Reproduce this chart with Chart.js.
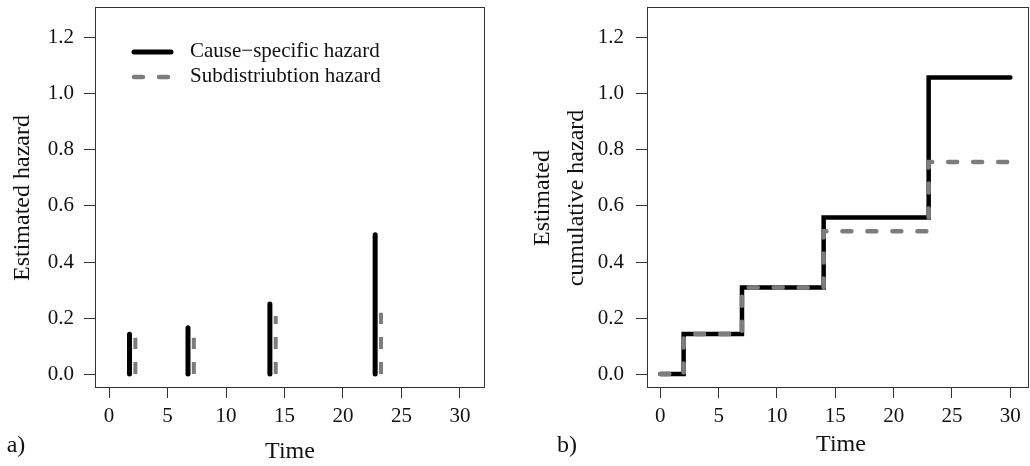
<!DOCTYPE html>
<html>
<head>
<meta charset="utf-8">
<script src="https://cdn.jsdelivr.net/npm/chart.js@4.4.1/dist/chart.umd.min.js"></script>
<style>
  html, body { margin: 0; padding: 0; background: #fff; }
  #wrap { position: relative; width: 1030px; height: 466px; overflow: hidden; }
  canvas { position: absolute; top: 0; }
  #left { left: 0; }
  #right { left: 515px; }
</style>
</head>
<body>
<div id="wrap">
  <canvas id="left" width="515" height="466"></canvas>
  <canvas id="right" width="515" height="466"></canvas>
</div>
<script>
// panel a) hazard jumps at the event times
const eventTimes = [2, 7, 14, 23];
const csHazard = [0.142, 0.165, 0.25, 0.497];
const sdHazard = [0.13, 0.13, 0.207, 0.219];

// panel b) cumulative hazard, value after each jump
const stepTimes = [0, 2, 7, 14, 23, 30];
const csCumHazard = [0, 0.143, 0.309, 0.559, 1.058, 1.058];
const sdCumHazard = [0, 0.143, 0.309, 0.51, 0.757, 0.757];

const xTicks = [0, 5, 10, 15, 20, 25, 30];
const yTicks = [0, 0.2, 0.4, 0.6, 0.8, 1.0, 1.2];
const yTickLabels = ["0.0", "0.2", "0.4", "0.6", "0.8", "1.0", "1.2"];
const legendLabels = ["Cause\u2212specific hazard", "Subdistriubtion hazard"];

const SERIF = '"Liberation Serif", "Times New Roman", serif';
const INK = "#111";
const GREY = "#7d7d7d";

// R type="h" style spikes, black shifted left, grey shifted right
function spikes(times, heights, shift) {
  const pts = [];
  times.forEach((t, i) => {
    pts.push({ x: t + shift, y: 0 });
    pts.push({ x: t + shift, y: heights[i] });
    pts.push({ x: t + shift, y: null });
  });
  return pts;
}

function axes(xMin, xMax, yWidth, yPad) {
  const grid = {
    drawOnChartArea: false,
    drawTicks: true,
    tickLength: 11,
    color: "#333",
    lineWidth: 1,
  };
  return {
    x: {
      type: "linear",
      min: xMin,
      max: xMax,
      afterBuildTicks: (s) => {
        s.ticks = xTicks.map((v) => ({ value: v }));
      },
      afterFit: (s) => {
        s.height = 79;
        s.paddingLeft = 0;
        s.paddingRight = 0;
      },
      grid: grid,
      border: { display: false },
      ticks: {
        font: { family: SERIF, size: 21 },
        color: INK,
        padding: 6,
        maxRotation: 0,
        autoSkip: false,
        callback: (v) => String(v),
      },
    },
    y: {
      type: "linear",
      min: -0.046,
      max: 1.31,
      afterBuildTicks: (s) => {
        s.ticks = yTicks.map((v) => ({ value: v }));
      },
      afterFit: (s) => {
        s.width = yWidth;
        s.paddingTop = 0;
        s.paddingBottom = 0;
      },
      grid: grid,
      border: { display: false },
      ticks: {
        font: { family: SERIF, size: 21 },
        color: INK,
        padding: yPad,
        autoSkip: false,
        callback: (v, i) => yTickLabels[i],
      },
    },
  };
}

function frame(titles) {
  return {
    id: "frame",
    beforeDatasetsDraw(chart) {
      const { ctx, chartArea: a } = chart;
      ctx.save();
      ctx.strokeStyle = "#333";
      ctx.lineWidth = 1;
      ctx.strokeRect(
        Math.round(a.left) + 0.5,
        Math.round(a.top) + 0.5,
        Math.round(a.right - a.left) - 1,
        Math.round(a.bottom - a.top)
      );
      ctx.restore();
    },
    afterDraw(chart) {
      const ctx = chart.ctx;
      ctx.save();
      ctx.fillStyle = INK;
      ctx.textAlign = "center";
      ctx.textBaseline = "middle";
      titles.forEach((t) => {
        ctx.font = t.size + "px " + SERIF;
        ctx.save();
        ctx.translate(t.x, t.y);
        if (t.rot) ctx.rotate(-Math.PI / 2);
        ctx.fillText(t.text, 0, 0);
        ctx.restore();
      });
      ctx.restore();
    },
  };
}

const legendPlugin = {
  id: "hazLegend",
  afterDraw(chart) {
    const ctx = chart.ctx;
    ctx.save();
    ctx.lineCap = "round";
    ctx.strokeStyle = "#000";
    ctx.lineWidth = 5;
    ctx.beginPath();
    ctx.moveTo(134, 52);
    ctx.lineTo(171, 52);
    ctx.stroke();
    ctx.strokeStyle = GREY;
    ctx.lineWidth = 4.5;
    ctx.setLineDash([9, 16]);
    ctx.beginPath();
    ctx.moveTo(134, 77);
    ctx.lineTo(172, 77);
    ctx.stroke();
    ctx.setLineDash([]);
    ctx.fillStyle = INK;
    ctx.font = "21px " + SERIF;
    ctx.textAlign = "left";
    ctx.textBaseline = "middle";
    ctx.fillText(legendLabels[0], 190, 51);
    ctx.fillText(legendLabels[1], 190, 76);
    ctx.restore();
  },
};

const common = {
  responsive: false,
  animation: false,
  devicePixelRatio: 1,
  plugins: { legend: { display: false }, tooltip: { enabled: false } },
  elements: { point: { radius: 0 }, line: { tension: 0 } },
};

new Chart(document.getElementById("left"), {
  type: "scatter",
  data: {
    datasets: [
      {
        data: spikes(eventTimes, csHazard, -0.25),
        showLine: true,
        borderColor: "#000",
        borderWidth: 5,
        borderCapStyle: "round",
        pointRadius: 0,
        order: 2,
      },
      {
        data: spikes(eventTimes, sdHazard, 0.25),
        showLine: true,
        borderColor: GREY,
        borderWidth: 4,
        borderDash: [12, 13],
        borderCapStyle: "butt",
        pointRadius: 0,
        order: 1,
      },
    ],
  },
  options: {
    ...common,
    layout: { padding: { top: 7, right: 30, bottom: 0, left: 0 } },
    scales: axes(-1.2, 32.14, 95, 10),
  },
  plugins: [
    frame([
      { text: "Time", x: 290, y: 452, size: 24 },
      { text: "Estimated hazard", x: 23, y: 198, size: 24, rot: true },
      { text: "a)", x: 16, y: 446, size: 24 },
    ]),
    legendPlugin,
  ],
});

// grey dashed curve is drawn over the black one (lower order = on top)
new Chart(document.getElementById("right"), {
  type: "scatter",
  data: {
    datasets: [
      {
        data: stepTimes.map((t, i) => ({ x: t, y: csCumHazard[i] })),
        showLine: true,
        stepped: "before",
        borderColor: "#000",
        borderWidth: 4.5,
        borderCapStyle: "round",
        borderJoinStyle: "miter",
        pointRadius: 0,
        order: 2,
      },
      {
        data: stepTimes.map((t, i) => ({ x: t, y: sdCumHazard[i] })),
        showLine: true,
        stepped: "before",
        borderColor: GREY,
        borderWidth: 4.5,
        borderDash: [9, 16],
        borderCapStyle: "round",
        pointRadius: 0,
        order: 1,
      },
    ],
  },
  options: {
    ...common,
    layout: { padding: { top: 7, right: 1, bottom: 0, left: 0 } },
    scales: axes(-1.14, 31.6, 132, 12),
  },
  plugins: [
    frame([
      { text: "Time", x: 326, y: 445, size: 24 },
      { text: "Estimated", x: 28, y: 198, size: 24, rot: true },
      { text: "cumulative hazard", x: 62, y: 198, size: 24, rot: true },
      { text: "b)", x: 52, y: 446, size: 24 },
    ]),
  ],
});
</script>
</body>
</html>
